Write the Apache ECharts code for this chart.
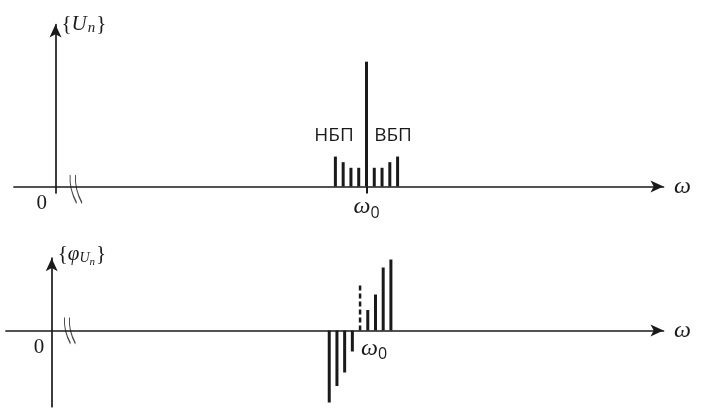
<!DOCTYPE html>
<html>
<head>
<meta charset="utf-8">
<script src="https://cdn.jsdelivr.net/npm/echarts@6/dist/echarts.min.js"></script>
<style>
html,body{margin:0;padding:0;background:#fff;}
#chart{width:707px;height:419px;}
</style>
</head>
<body>
<div id="chart"></div>
<script>
// ---- data ----
const freqs = [90, 92.5, 95, 97.5, 100, 102.5, 105, 107.5, 110];          // ω0 - 4Ω ... ω0 + 4Ω
const amplitudes = [0.24, 0.195, 0.15, 0.15, 1.0, 0.15, 0.15, 0.195, 0.24]; // {U_n}
const phases = [-7.2, -5.55, -4.2, -2.1, null, 2.05, 3.6, 6.3, 7.1];       // {φ_Un}
const carrierFreq = 100;
const carrierPhase = 4.5;            // dashed line at ω0
const sidebandLabels = ['НБП', 'ВБП'];
const xTickLabels = [0, 100];        // "0" and "ω0"
const breakTop = [6.6, -0.02];
const breakBottom = [5.9, 0];

const INK = '#1a1a1a';
const breakPath = 'path://M1,0 Q0,14 7,28 M6,0 Q5,14 12,28';

function xLabelFormatter(v) {
  if (v === 0) return '{z|0}';
  return '{w|ω}{s|0}';
}

const ampData = freqs.map((f, i) => {
  const d = {value: [f, amplitudes[i]]};
  if (i === 0) d.label = {show: true, formatter: sidebandLabels[0], offset: [-1.4, 0]};
  if (i === freqs.length - 1) d.label = {show: true, formatter: sidebandLabels[1], offset: [-4.5, 0]};
  return d;
});
const phaseData = freqs.map((f, i) => phases[i] == null ? '-' : [f, phases[i]]);

const axisLineStyle = {color: INK, width: 1.7};

function richFor(zeroPad, wShift) {
  return {
    z: {fontFamily: 'Liberation Serif', fontSize: 21, color: INK, padding: zeroPad, lineHeight: 17},
    w: {fontFamily: 'Liberation Serif', fontStyle: 'italic', fontSize: 24, color: INK, lineHeight: 24, padding: [0, 0, 0, wShift]},
    s: {fontFamily: 'Open Sans', fontSize: 16, color: INK, padding: [12, 0, 0, 0], lineHeight: 16}
  };
}

const option = {
  animation: false,
  backgroundColor: '#fff',
  grid: [
    {left: 14, right: 43.5, top: 24.5, bottom: 226, outerBoundsMode: 'none', containLabel: false},
    {left: 6, right: 43.5, top: 258.2, bottom: 12.3, outerBoundsMode: 'none', containLabel: false}
  ],
  xAxis: [
    {
      gridIndex: 0, type: 'value', min: -13.34, max: 195.5,
      axisLine: {show: true, onZero: true, symbol: ['none', 'arrow'], symbolSize: [9, 13], lineStyle: axisLineStyle},
      axisTick: {show: true, customValues: [carrierFreq], length: 7, lineStyle: {color: INK, width: 2}},
      axisLabel: {show: true, customValues: xTickLabels, margin: 2, formatter: xLabelFormatter, rich: richFor([0, 27.6, 0, 0], 0)},
      splitLine: {show: false},
      name: 'ω', nameLocation: 'end', nameGap: 10.5,
      nameTextStyle: {fontFamily: 'Liberation Serif', fontStyle: 'italic', fontSize: 24, color: INK, verticalAlign: 'middle', padding: [0, 0, 6, 0]}
    },
    {
      gridIndex: 1, type: 'value', min: -14.82, max: 198.4,
      axisLine: {show: true, onZero: true, symbol: ['none', 'arrow'], symbolSize: [9, 13], lineStyle: axisLineStyle},
      axisTick: {show: false},
      axisLabel: {show: true, customValues: xTickLabels, margin: -70, formatter: xLabelFormatter, rich: richFor([4, 25.4, 0, 0], 28)},
      splitLine: {show: false},
      name: 'ω', nameLocation: 'end', nameGap: 10.5,
      nameTextStyle: {fontFamily: 'Liberation Serif', fontStyle: 'italic', fontSize: 24, color: INK, verticalAlign: 'middle', padding: [0, 0, 6, 0]}
    }
  ],
  yAxis: [
    {
      gridIndex: 0, type: 'value', min: -0.052, max: 1.298,
      axisLine: {show: true, onZero: true, symbol: ['none', 'arrow'], symbolSize: [9, 13], lineStyle: axisLineStyle},
      axisTick: {show: false}, axisLabel: {show: false}, splitLine: {show: false},
      name: '{{u|U}{n|n}}', nameLocation: 'end', nameGap: 0,
      nameTextStyle: {
        fontFamily: 'Liberation Serif', fontSize: 21, color: INK, align: 'left', verticalAlign: 'middle', padding: [0, 0, 0, 6],
        rich: {
          u: {fontFamily: 'Liberation Serif', fontStyle: 'italic', fontSize: 21, color: INK},
          n: {fontFamily: 'Liberation Serif', fontStyle: 'italic', fontSize: 15, color: INK, padding: [8, 1, 0, 1]}
        }
      }
    },
    {
      gridIndex: 1, type: 'value', min: -7.62, max: 7.23,
      axisLine: {show: true, onZero: true, symbol: ['none', 'arrow'], symbolSize: [9, 13], lineStyle: axisLineStyle},
      axisTick: {show: false}, axisLabel: {show: false}, splitLine: {show: false},
      name: '{{p|φ}{u|U}{n|n}}', nameLocation: 'end', nameGap: 4,
      nameTextStyle: {
        fontFamily: 'Liberation Serif', fontSize: 21, color: INK, align: 'left', verticalAlign: 'middle', padding: [0, 0, 0, 6],
        rich: {
          p: {fontFamily: 'Liberation Serif', fontStyle: 'italic', fontSize: 21, color: INK},
          u: {fontFamily: 'Liberation Serif', fontStyle: 'italic', fontSize: 14, color: INK, padding: [9, 0, 0, 0]},
          n: {fontFamily: 'Liberation Serif', fontStyle: 'italic', fontSize: 11, color: INK, padding: [15, 1, 0, 0]}
        }
      }
    }
  ],
  series: [
    {
      type: 'bar', xAxisIndex: 0, yAxisIndex: 0, barWidth: 3,
      itemStyle: {color: INK},
      label: {show: false, position: 'top', distance: 11, fontFamily: 'Open Sans', fontSize: 19, color: INK},
      data: ampData
    },
    {
      type: 'bar', xAxisIndex: 1, yAxisIndex: 1, barWidth: 3,
      itemStyle: {color: INK},
      data: phaseData
    },
    {
      type: 'line', xAxisIndex: 1, yAxisIndex: 1, symbol: 'none',
      lineStyle: {color: INK, width: 2.5, type: [5, 3]},
      data: [[carrierFreq, 0], [carrierFreq, carrierPhase]]
    },
    {
      type: 'scatter', xAxisIndex: 0, yAxisIndex: 0, symbol: breakPath, symbolSize: [12, 28],
      itemStyle: {color: 'none', borderColor: INK, borderWidth: 1.5},
      data: [breakTop], silent: true
    },
    {
      type: 'scatter', xAxisIndex: 1, yAxisIndex: 1, symbol: breakPath, symbolSize: [11, 26],
      itemStyle: {color: 'none', borderColor: INK, borderWidth: 1.5},
      data: [breakBottom], silent: true
    }
  ]
};

const chart = echarts.init(document.getElementById('chart'), null, {renderer: 'canvas'});
chart.setOption(option);
</script>
</body>
</html>
